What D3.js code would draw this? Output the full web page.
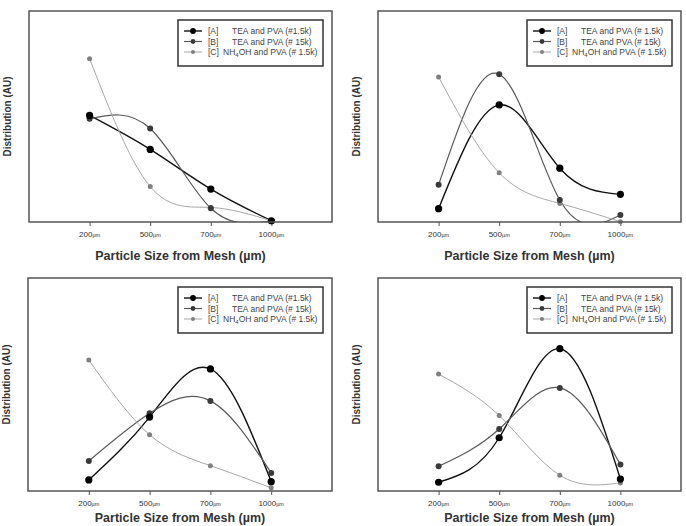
<!DOCTYPE html>
<html>
<head>
<meta charset="utf-8">
<script src="https://cdn.jsdelivr.net/npm/d3@7"></script>
<style>
  body { margin: 0; background: #fff; }
  svg { display: block; font-family: "Liberation Sans", Arial, sans-serif; }
</style>
</head>
<body>
<div id="chart"></div>
<script>
// Mesh sizes (categorical x axis)
const sizes = ["200", "500", "700", "1000"];
const seriesKeys = ["[A]", "[B]", "[C]"];

const panel1A = [50.5, 34.4, 15.6, 0.6];
const panel1B = [48.9, 44.3, 6.5, 0.6];
const panel1C = [77.4, 16.8, 6.9, 0.6];

const panel2A = [6.3, 55.5, 25.5, 13.1];
const panel2B = [17.6, 70.0, 10.4, 3.3];
const panel2C = [68.7, 23.3, 8.8, 0.1];

const panel3A = [5.2, 34.7, 57.3, 4.4];
const panel3B = [14.1, 36.5, 42.3, 8.5];
const panel3C = [61.5, 26.4, 11.9, 1.5];

const panel4A = [4.1, 25.0, 66.8, 5.6];
const panel4B = [11.6, 29.1, 48.4, 12.4];
const panel4C = [54.9, 35.4, 7.4, 3.8];

// Legend descriptions per panel (they differ slightly in the original)
const legend1 = ["TEA and PVA (#1.5k)", "TEA and PVA (# 15k)", "and PVA (# 1.5k)"];
const legend2 = ["TEA and PVA (# 1.5k)", "TEA and PVA (# 15k)", "and PVA (# 1.5k)"];
const legend3 = ["TEA and PVA (#1.5k)", "TEA and PVA (# 15k)", "and PVA (# 1.5k)"];
const legend4 = ["TEA and PVA (# 1.5k)", "TEA and PVA (# 15k)", "and PVA (# 1.5k)"];

const xTitle = "Particle Size from Mesh (\u00b5m)";
const yTitle = "Distribution (AU)";

const W = 686, H = 526;

// series styles
const styles = [
  { line: "#111", dot: "#000", r: 3.6, w: 1.4 },
  { line: "#5a5a5a", dot: "#3a3a3a", r: 3.0, w: 1.2 },
  { line: "#a8a8a8", dot: "#808080", r: 2.5, w: 1.0 }
];

// titleDy: the lower row has less room below, keep its title inside the page
const panels = [
  { x0: 29, x1: 332, y0: 11, y1: 222, titleDy: 38, series: [panel1A, panel1B, panel1C], legend: legend1 },
  { x0: 378, x1: 681, y0: 11, y1: 222, titleDy: 38, series: [panel2A, panel2B, panel2C], legend: legend2 },
  { x0: 28, x1: 332, y0: 278, y1: 491, titleDy: 31, series: [panel3A, panel3B, panel3C], legend: legend3 },
  { x0: 378, x1: 681, y0: 278, y1: 491, titleDy: 31, series: [panel4A, panel4B, panel4C], legend: legend4 }
];

const svg = d3.select("#chart")
  .append("svg")
  .attr("width", W)
  .attr("height", H);

panels.forEach(function(p, pi) {
  const g = svg.append("g");

  const x = d3.scalePoint()
    .domain(sizes)
    .range([p.x0, p.x1])
    .padding(1);

  const y = d3.scaleLinear()
    .domain([0, 100])
    .range([p.y1, p.y0]);

  // clip to the plot frame
  const clipId = "clip" + pi;
  svg.append("clipPath").attr("id", clipId)
    .append("rect")
    .attr("x", p.x0).attr("y", p.y0)
    .attr("width", p.x1 - p.x0).attr("height", p.y1 - p.y0);

  // x axis (ticks only, outward)
  const xAxis = g.append("g")
    .attr("transform", `translate(0, ${p.y1})`)
    .call(d3.axisBottom(x).tickSize(4).tickFormat(""));
  xAxis.select(".domain").remove();
  xAxis.selectAll(".tick line").attr("stroke", "#555");

  // tick labels: number + small unit
  const labels = g.selectAll(".xlab")
    .data(sizes)
    .join("text")
    .attr("class", "xlab")
    .attr("x", d => x(d))
    .attr("y", p.y1 + 15)
    .attr("text-anchor", "middle")
    .attr("fill", "#333")
    .style("font-size", "8px");
  labels.append("tspan").text(d => d);
  labels.append("tspan").style("font-size", "5.5px").text("\u00b5m");

  // axis titles
  g.append("text")
    .attr("x", (p.x0 + p.x1) / 2)
    .attr("y", p.y1 + p.titleDy)
    .attr("text-anchor", "middle")
    .attr("fill", "#333")
    .style("font-size", "12.5px")
    .style("font-weight", "bold")
    .text(xTitle);

  g.append("text")
    .attr("transform", `translate(${p.x0 - 18}, ${(p.y0 + p.y1) / 2}) rotate(-90)`)
    .attr("text-anchor", "middle")
    .attr("fill", "#333")
    .style("font-size", "10px")
    .style("font-weight", "bold")
    .text(yTitle);

  // curves
  const line = d3.line()
    .curve(d3.curveNatural)
    .x((d, i) => x(sizes[i]))
    .y(d => y(d));

  const plot = g.append("g").attr("clip-path", `url(#${clipId})`);
  p.series.forEach(function(vals, si) {
    plot.append("path")
      .datum(vals)
      .attr("fill", "none")
      .attr("stroke", styles[si].line)
      .attr("stroke-width", styles[si].w)
      .attr("d", line);
  });
  // markers on top
  [2, 1, 0].forEach(function(si) {
    g.selectAll(".dot" + si)
      .data(p.series[si])
      .join("circle")
      .attr("class", "dot" + si)
      .attr("cx", (d, i) => x(sizes[i]))
      .attr("cy", d => y(d))
      .attr("r", styles[si].r)
      .attr("fill", styles[si].dot);
  });

  // frame
  g.append("rect")
    .attr("x", p.x0).attr("y", p.y0)
    .attr("width", p.x1 - p.x0).attr("height", p.y1 - p.y0)
    .attr("fill", "none")
    .attr("stroke", "#555")
    .attr("stroke-width", 1.5);

  // legend
  const lw = 145, lh = 46;
  const lx = p.x1 - 9 - lw, ly = p.y0 + 9;
  const lg = g.append("g").attr("transform", `translate(${lx}, ${ly})`);
  lg.append("rect")
    .attr("width", lw).attr("height", lh)
    .attr("fill", "#fff")
    .attr("stroke", "#333")
    .attr("stroke-width", 1.5);
  seriesKeys.forEach(function(key, si) {
    const ry = 11 + si * 10.5;
    lg.append("line")
      .attr("x1", 6).attr("x2", 24)
      .attr("y1", ry).attr("y2", ry)
      .attr("stroke", styles[si].line)
      .attr("stroke-width", styles[si].w);
    lg.append("circle")
      .attr("cx", 15).attr("cy", ry)
      .attr("r", styles[si].r * 0.8)
      .attr("fill", styles[si].dot);
    lg.append("text")
      .attr("x", 30).attr("y", ry + 3)
      .attr("fill", "#444")
      .style("font-size", "8.5px")
      .text(key);
    const t = lg.append("text")
      .attr("y", ry + 3)
      .attr("fill", "#444")
      .style("font-size", "8.5px");
    if (si < 2) {
      t.attr("x", 54).text(p.legend[si]);
    } else {
      t.attr("x", 45);
      t.append("tspan").text("NH");
      t.append("tspan").attr("dy", 2).style("font-size", "6px").text("4");
      t.append("tspan").attr("dy", -2).text("OH " + p.legend[si]);
    }
  });
});
</script>
</body>
</html>
